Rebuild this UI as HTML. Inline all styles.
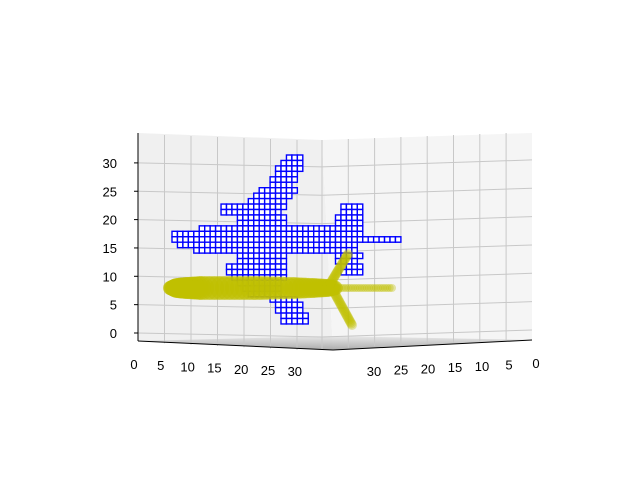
<!DOCTYPE html>
<html><head><meta charset="utf-8"><style>
body{margin:0;background:#fff}
svg{display:block;font-family:"Liberation Sans","DejaVu Sans",sans-serif}
</style></head><body>
<svg width="640" height="480" viewBox="0 0 640 480">
<defs>
<linearGradient id="fl" x1="0" x2="0" y1="0" y2="1"><stop offset="0" stop-color="#e6e6e6"/><stop offset="1" stop-color="#9a9a9a"/></linearGradient>
</defs>
<g>
<polygon points="138,133 322,140 333,350 138,341" fill="#f0f0f0"/>
<polygon points="322,140 532,133 532,340 333,350" fill="#f5f5f5"/>
<polygon points="138,341 333,336 532,340 333,350" fill="url(#fl)" opacity="0.8"/>
</g>
<g id="grid" stroke="#c8c8c8" stroke-width="1" fill="none"></g>
<g id="vox"></g>
<g id="scat"></g>
<g stroke="#000" stroke-width="1">
<line x1="138" y1="133" x2="138" y2="341"/>
<line x1="138" y1="341" x2="333" y2="350"/>
<line x1="333" y1="350" x2="532" y2="340"/>
</g>
<g id="ticks" font-size="13" fill="#000"></g>
</svg>
<script>
const NS='http://www.w3.org/2000/svg';
const zTicks=[0,5,10,15,20,25,30];
const xTicks=[0,5,10,15,20,25,30];
const yTicks=[30,25,20,15,10,5,0];
// voxel rows: [row, startCol, endCol]
const voxRows=[[0,21,23],[1,20,23],[2,19,23],[3,19,22],[4,18,22],[5,18,21],[6,16,22],[7,15,21],[8,14,20],
[9,9,20],[9,31,34],[10,9,19],[10,31,34],[11,12,20],[11,30,34],[12,12,20],[12,30,34],[13,5,34],
[14,0,34],[15,0,41],[16,1,28],[16,29,33],[17,4,28],[17,29,33],[18,12,20],[18,30,34],[19,12,20],[19,30,33],
[20,10,20],[20,31,34],[21,10,20],[21,31,34],[22,11,20],[23,12,19],[24,13,19],[25,14,19],[26,18,22],
[27,19,23],[28,19,23],[29,20,24],[30,20,24]];
// fuselage profile
const fusX=[-2,5,15,30,60,90,120,140,155,165];
const fusR=[7,10,11,12,12,12,11,10,9,7];
// other scatter segments: [x0,y0,x1,y1,radius]
const scatSeg=[[165,0,220,0,4],[158,4,176,34,5],[162,-4,180,-37,5]];
const sx=v=>172+v, sy=v=>288-v;
const g=document.getElementById('grid');
function ln(x1,y1,x2,y2){const l=document.createElementNS(NS,'line');l.setAttribute('x1',x1);l.setAttribute('y1',y1);l.setAttribute('x2',x2);l.setAttribute('y2',y2);


g.appendChild(l);}
const zy=z=>333-z*5.67;
zTicks.forEach(z=>{ln(138,zy(z),322,zy(z)+4);ln(322,zy(z)+4,532,zy(z)-3);});
for(let i=1;i<7;i++){const x=138+i*26.5;ln(x,134+i,x,342+i*1.3);}
for(let i=0;i<8;i++){const x=322+i*26.3;ln(x,140-i,x,349-i*1.3);}
const v=document.getElementById('vox');const cw=5.45;
voxRows.forEach(r=>{for(let c=r[1];c<=r[2];c++){const e=document.createElementNS(NS,'rect');
e.setAttribute('x',172+c*cw);e.setAttribute('y',155+r[0]*cw);e.setAttribute('width',cw);e.setAttribute('height',cw);
e.setAttribute('fill','#fff');e.setAttribute('stroke','#0000ff');e.setAttribute('stroke-width','1.4');


v.appendChild(e);}});
const s=document.getElementById('scat');
function dot(x,y,rx,ry,op){const c=document.createElementNS(NS,'ellipse');c.setAttribute('cx',sx(x));c.setAttribute('cy',sy(y));c.setAttribute('rx',rx);c.setAttribute('ry',ry);
c.setAttribute('fill','#bfbf00');c.setAttribute('opacity',op);


s.appendChild(c);}
for(let i=0;i<fusX.length-1;i++){for(let k=0;k<6;k++){const t=k/6;const x=fusX[i]+(fusX[i+1]-fusX[i])*t;const r=fusR[i]+(fusR[i+1]-fusR[i])*t;dot(x,0,Math.max(r,6),r,0.6);}}
scatSeg.forEach(p=>{const n=24;for(let i=0;i<=n;i++){const t=i/n;dot(p[0]+(p[2]-p[0])*t,p[1]+(p[3]-p[1])*t,p[4],p[4],0.35);}});
const tk=document.getElementById('ticks');
function tx(t,x,y,a){const e=document.createElementNS(NS,'text');e.textContent=t;e.setAttribute('x',x);e.setAttribute('y',y);e.setAttribute('text-anchor',a);


tk.appendChild(e);}
zTicks.forEach(z=>tx(z,117,zy(z)+5,'end'));
xTicks.forEach((t,i)=>tx(t,134+i*26.8,369+i*1.2,'middle'));
yTicks.forEach((t,i)=>tx(t,374+i*27,376-i*1.3,'middle'));
zTicks.forEach(z=>{const l=document.createElementNS(NS,'line');l.setAttribute('x1',134);l.setAttribute('x2',138);l.setAttribute('y1',zy(z));l.setAttribute('y2',zy(z));l.setAttribute('stroke','#000');


tk.appendChild(l);});
</script>
</body></html>
